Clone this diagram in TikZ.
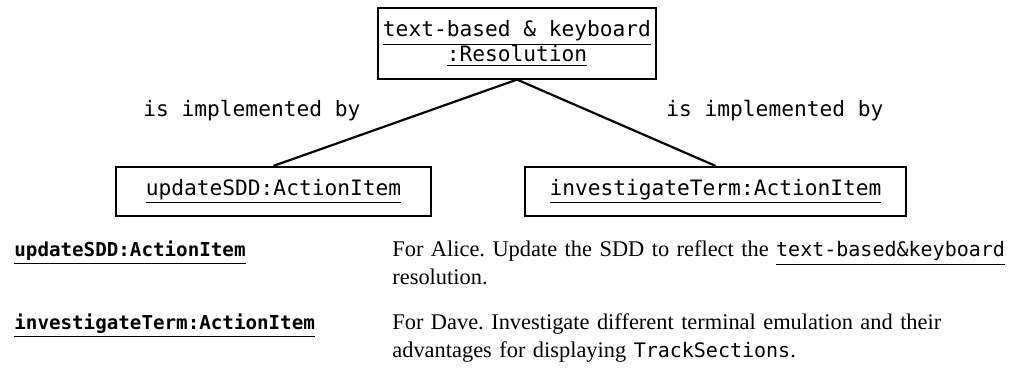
\documentclass[tikz,border=0pt]{standalone}
\usepackage{fontspec}
\setmainfont{Liberation Serif}
\setmonofont{DejaVu Sans Mono}
\usepackage{tikz}
\usetikzlibrary{positioning}
\frenchspacing
\newcommand{\monotext}[1]{{\fontsize{10}{14}\selectfont\ttfamily #1}}
\tikzset{
  resolutionbox/.style={draw,line width=0.6pt,align=center,minimum width=139pt,
    minimum height=35.5pt,inner sep=0pt,font=\fontsize{10.6}{12.5}\selectfont\ttfamily},
  itembox/.style={draw,line width=1.1pt,minimum height=24.5pt,inner sep=0pt,
    font=\fontsize{10.6}{12.5}\selectfont\ttfamily},
  implline/.style={line width=1.1pt},
  linklabel/.style={font=\fontsize{10.6}{12.5}\selectfont\ttfamily,anchor=base west,inner sep=0pt},
  itemname/.style={font=\fontsize{9.6}{12}\selectfont\ttfamily\bfseries,anchor=base west,inner sep=0pt},
  itemtext/.style={font=\fontsize{11.2}{14}\selectfont,text width=308pt,align=left,
    anchor=base west,inner sep=0pt}
}
\begin{document}
\begin{tikzpicture}[x=0.5pt,y=-0.5pt]
  \useasboundingbox (0,0) rectangle (1019,373);
  % object diagram
  \node[resolutionbox] (res) at (517,43.5) {\underline{text-based \& keyboard}\\\underline{:Resolution}};
  \node[itembox,minimum width=157.5pt] (upd) at (273.5,191.5) {\underline{updateSDD:ActionItem}};
  \node[itembox,minimum width=190.5pt] (inv) at (715.5,191.5) {\underline{investigateTerm:ActionItem}};
  \draw[implline] (res.south) -- (upd.north);
  \draw[implline] (res.south) -- (inv.north);
  \node[linklabel] (lbla) at (143,117) {is implemented by};
  \node[linklabel] (lblb) at (666,117) {is implemented by};
  % action items
  \node[itemname] (nameupd) at (14,257) {\underline{updateSDD:ActionItem}};
  \node[itemtext] (textupd) at (392,257) {For Alice. Update the SDD to reflect the \monotext{\underline{text-based\&keyboard}}\\resolution.};
  \node[itemname] (nameinv) at (14,330) {\underline{investigateTerm:ActionItem}};
  \node[itemtext] (textinv) at (392,330) {For Dave. Investigate different terminal emulation and their\\advantages for displaying \monotext{TrackSections}.};
\end{tikzpicture}
\end{document}
